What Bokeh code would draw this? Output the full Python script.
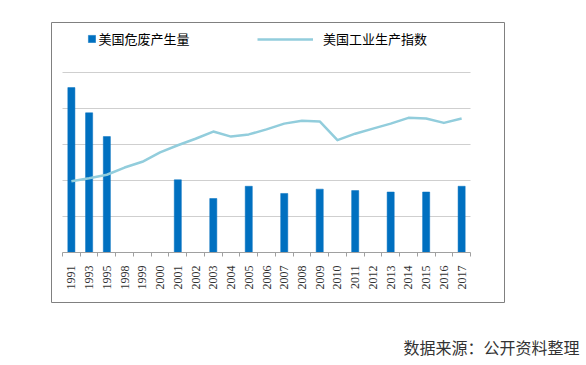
from bokeh.plotting import figure
from bokeh.embed import file_html
from bokeh.resources import INLINE
from bokeh.models import (Legend, LegendItem, Label, FixedTicker,
                          Range1d, ColumnDataSource)

# ---- data ----
years = ["1991", "1993", "1995", "1998", "1999", "2000", "2001", "2002", "2003",
         "2004", "2005", "2006", "2007", "2008", "2009", "2010", "2011", "2012",
         "2013", "2014", "2015", "2016", "2017"]
waste = [229, 194, 161, None, None, None, 101, None, 75, None, 92, None, 82,
         None, 88, None, 86, None, 84, None, 84, None, 92]
industry = [99, 103, 108, 118, 126, 139, 149, 158, 168, 161, 164, 171, 179,
            183, 182, 156, 165, 172, 179, 187, 186, 180, 186]
grid_ticks = [50, 100, 150, 200, 250]

waste_label = "美国危废产生量"
industry_label = "美国工业生产指数"
source_text = "数据来源：公开资料整理"

# ---- geometry (pixels) ----
W, H = 586, 365
plot_left, plot_right, base_y = 62.0, 470.0, 252.0
n = len(years)
px_x = (plot_right - plot_left) / n    # px per category
px_y = 36.0 / 50.0                     # px per value unit

def xd(px):   # canvas px -> data x
    return -0.5 + (px - plot_left) / px_x

def yd(py):   # canvas px -> data y
    return (base_y - py) / px_y

idx = list(range(n))
bar_x = [i for i, v in zip(idx, waste) if v is not None]
bar_top = [v for v in waste if v is not None]

p = figure(width=W, height=H,
           x_range=Range1d(xd(0), xd(W)), y_range=Range1d(yd(H), yd(0)),
           output_backend="svg", toolbar_location=None,
           min_border_left=0, min_border_right=0,
           min_border_top=0, min_border_bottom=0)
p.outline_line_color = None
p.background_fill_color = "white"
p.border_fill_color = "white"

p.xgrid.visible = False
p.ygrid.visible = False
p.yaxis.visible = False

# outer chart-area frame
p.quad(left=[xd(51)], right=[xd(504)], top=[yd(22)], bottom=[yd(302)],
       fill_color=None, line_color="#808080", line_width=1)

# horizontal gridlines across the category span
p.segment(x0=[-0.5] * len(grid_ticks), x1=[n - 0.5] * len(grid_ticks),
          y0=grid_ticks, y1=grid_ticks, line_color="#cfcfcf", line_width=1.2)

# x axis: labels at category centers, ticks at boundaries
boundaries = [i - 0.5 for i in range(n + 1)]
xa = p.xaxis[0]
xa.fixed_location = 0
xa.bounds = (-0.5, n - 0.5)
xa.ticker = FixedTicker(ticks=idx, minor_ticks=boundaries)
xa.major_label_overrides = {i: y for i, y in zip(idx, years)}
xa.major_tick_line_color = None
xa.major_tick_out = 0
xa.major_tick_in = 0
xa.minor_tick_line_color = "#a0a0a0"
xa.minor_tick_out = 4
xa.minor_tick_in = 0
xa.axis_line_color = "#a0a0a0"
xa.major_label_orientation = 3.14159265 / 2
xa.major_label_standoff = 9
xa.major_label_text_font = "Liberation Serif"
xa.major_label_text_font_size = "12px"
xa.major_label_text_color = "#333333"

src_bar = ColumnDataSource(dict(x=bar_x, top=bar_top))
bars = p.vbar(x="x", top="top", width=0.4, bottom=0, source=src_bar,
              fill_color="#0070c0", line_color="#0070c0", line_width=0.5)

src_line = ColumnDataSource(dict(x=idx, y=industry))
line = p.line(x="x", y="y", source=src_line, line_color="#92cddc",
              line_width=2.5, line_join="round")

# legends (location = bottom-left of legend box, px from frame bottom-left)
leg_common = dict(orientation="horizontal", padding=0, margin=0,
                  border_line_color=None, background_fill_alpha=0,
                  label_text_font="Noto Sans CJK SC", label_text_font_size="13px",
                  label_text_color="#000000", label_height=16)
leg1 = Legend(items=[LegendItem(label=waste_label, renderers=[bars])],
              location=(86.5, H - 48), glyph_width=9, glyph_height=9,
              label_standoff=3, **leg_common)
leg2 = Legend(items=[LegendItem(label=industry_label, renderers=[line])],
              location=(257, H - 48), glyph_width=56, glyph_height=16,
              label_standoff=10, **leg_common)
p.add_layout(leg1)
p.add_layout(leg2)

# source note
p.add_layout(Label(x=xd(403), y=yd(346), text=source_text,
                   text_font="Noto Sans CJK SC", text_font_size="16px",
                   text_color="#333333", text_baseline="middle"))

open("out.html", "w").write(file_html(p, INLINE))
